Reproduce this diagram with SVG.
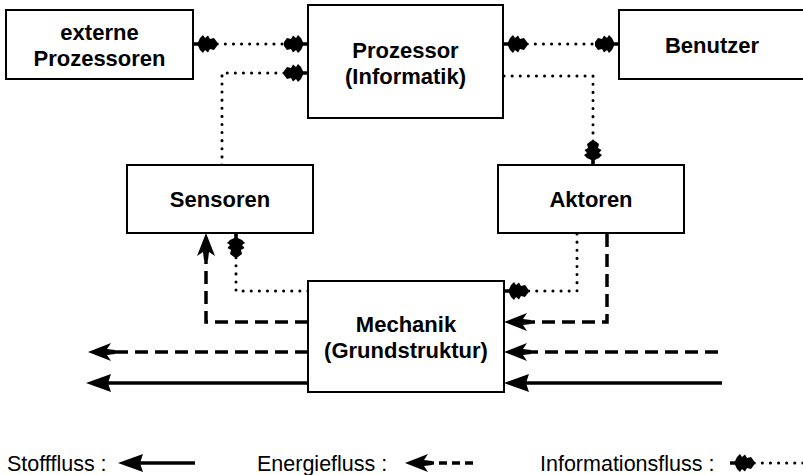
<svg xmlns="http://www.w3.org/2000/svg" width="803" height="475" viewBox="0 0 803 475">
  <style>
    .box { fill: #fff; stroke: #000; stroke-width: 2; }
    .lbl { font-family: "Liberation Sans", Arial, sans-serif; font-weight: bold; font-size: 22px; text-anchor: middle; fill: #000; }
    .leg { font-family: "Liberation Sans", Arial, sans-serif; font-size: 21.5px; fill: #000; }
    .stoff { fill: none; stroke: #000; stroke-width: 3.5; }
    .energie { fill: none; stroke: #000; stroke-width: 3.5; stroke-dasharray: 13 7; }
    .info { fill: none; stroke: #000; stroke-width: 3; stroke-linecap: round; stroke-dasharray: 0.1 8; }
  </style>
  <defs>
    <!-- material flow head: plain triangle -->
    <marker id="hStoff" markerUnits="userSpaceOnUse" viewBox="-30 -12 32 24" refX="-8" refY="0" markerWidth="32" markerHeight="24" orient="auto-start-reverse">
      <path d="M0,0 L-25,-9 L-22,0 L-25,9 Z" fill="#000"/>
    </marker>
    <!-- energy flow head: triangle with notched back -->
    <marker id="hEnergie" markerUnits="userSpaceOnUse" viewBox="-30 -12 32 24" refX="-8" refY="0" markerWidth="32" markerHeight="24" orient="auto-start-reverse">
      <path d="M0,0 L-23,-9 L-19,-3 L-27,-2 L-27,2 L-19,3 L-23,9 Z" fill="#000"/>
    </marker>
    <!-- information flow head: ragged blob on a short stub -->
    <marker id="hInfo" markerUnits="userSpaceOnUse" viewBox="-28 -12 30 24" refX="-8" refY="0" markerWidth="30" markerHeight="24" orient="auto-start-reverse">
      <path d="M0,-1.8 L-5,-1.8 L-7,-6 L-10,-9 L-12,-6 L-15,-8.5 L-17,-5 L-21,-6 L-24,-2 L-24,2 L-21,6 L-17,5 L-15,8.5 L-12,6 L-10,9 L-7,6 L-5,1.8 L0,1.8 Z" fill="#000"/>
    </marker>
  </defs>

  <g id="connectors">
    <!-- information flows -->
    <path class="info" d="M201,44 L300,44" marker-start="url(#hInfo)" marker-end="url(#hInfo)"/>
    <path class="info" d="M222,165 L222,73 L300,73" marker-end="url(#hInfo)"/>
    <path class="info" d="M511,44 L611,44" marker-start="url(#hInfo)" marker-end="url(#hInfo)"/>
    <path class="info" d="M504,76 L593,76 L593,157" marker-end="url(#hInfo)"/>
    <path class="info" d="M308,291 L236,291 L236,241" marker-end="url(#hInfo)"/>
    <path class="info" d="M577,234 L577,291 L512,291" marker-end="url(#hInfo)"/>
    <!-- energy flows -->
    <path class="energie" d="M308,322 L206,322 L206,241" marker-end="url(#hEnergie)"/>
    <path class="energie" d="M607,234 L607,322 L512,322" marker-end="url(#hEnergie)"/>
    <path class="energie" d="M718,352 L512,352" marker-end="url(#hEnergie)"/>
    <path class="energie" d="M308,352 L96,352" marker-end="url(#hEnergie)"/>
    <!-- material flows -->
    <path class="stoff" d="M722,383 L512,383" marker-end="url(#hStoff)"/>
    <path class="stoff" d="M308,383 L94,383" marker-end="url(#hStoff)"/>
  </g>

  <g id="externe-prozessoren">
    <rect class="box" x="6" y="10" width="187" height="69"/>
    <text class="lbl" x="99.5" y="40">externe</text>
    <text class="lbl" x="99.5" y="66">Prozessoren</text>
  </g>
  <g id="prozessor">
    <rect class="box" x="308" y="5" width="195" height="113"/>
    <text class="lbl" x="405.5" y="58">Prozessor</text>
    <text class="lbl" x="405.5" y="84">(Informatik)</text>
  </g>
  <g id="benutzer">
    <rect class="box" x="619" y="10" width="187" height="69"/>
    <text class="lbl" x="712" y="53">Benutzer</text>
  </g>
  <g id="sensoren">
    <rect class="box" x="127" y="165" width="186" height="68"/>
    <text class="lbl" x="220" y="207">Sensoren</text>
  </g>
  <g id="aktoren">
    <rect class="box" x="498" y="165" width="186" height="68"/>
    <text class="lbl" x="591" y="207">Aktoren</text>
  </g>
  <g id="mechanik">
    <rect class="box" x="308" y="281" width="196" height="111"/>
    <text class="lbl" x="406" y="332">Mechanik</text>
    <text class="lbl" x="406" y="358">(Grundstruktur)</text>
  </g>

  <g id="legende">
    <text class="leg" x="7" y="471">Stofffluss :</text>
    <path class="stoff" d="M126,463 L195,463" marker-start="url(#hStoff)"/>
    <text class="leg" x="257" y="471">Energiefluss :</text>
    <path class="energie" style="stroke-dasharray: 8 5" d="M413,463 L477,463" marker-start="url(#hEnergie)"/>
    <text class="leg" x="540" y="471">Informationsfluss :</text>
    <path class="info" d="M738,463 L803,463" marker-start="url(#hInfo)"/>
  </g>
</svg>
